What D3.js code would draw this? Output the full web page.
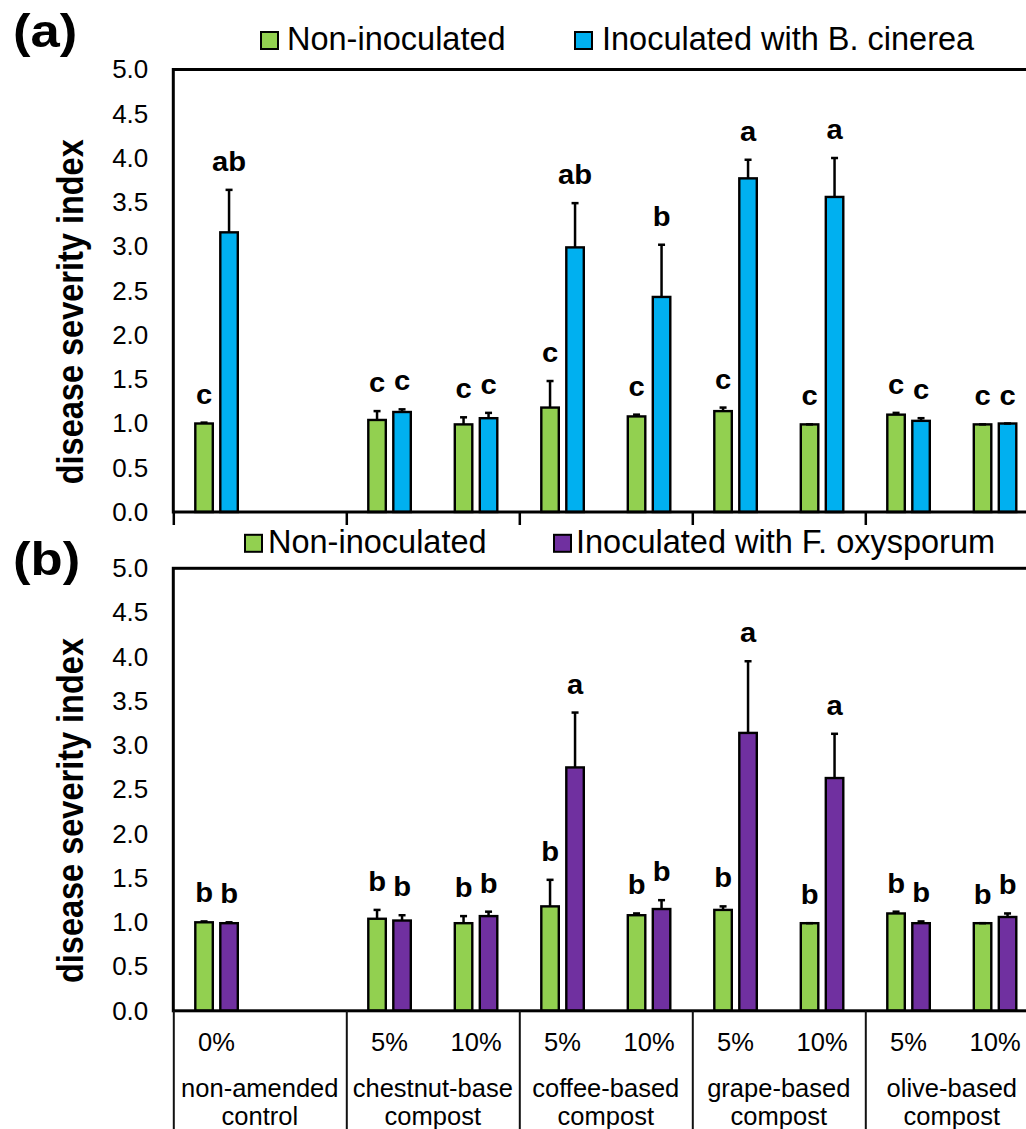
<!DOCTYPE html>
<html>
<head>
<meta charset="utf-8">
<script src="https://cdn.jsdelivr.net/npm/d3@7"></script>
<style>
  body { margin: 0; background: #fff; }
  text { font-family: "Liberation Sans", Arial, sans-serif; fill: #000; }
</style>
</head>
<body>
<div id="chart"></div>
<script>
// x categories: 10 slots, the second one is left empty
const doses = ["0%", "", "5%", "10%", "5%", "10%", "5%", "10%", "5%", "10%"];
const composts = [
    ["non-amended", "control"],
    ["chestnut-base", "compost"],
    ["coffee-based", "compost"],
    ["grape-based", "compost"],
    ["olive-based", "compost"]
];

// non-inoculated plants (same in both panels)
const nonInoc    = [1.00, null, 1.04, 0.99, 1.18, 1.08, 1.14, 0.99, 1.10, 0.99];
const nonInocErr = [0.01, null, 0.10, 0.08, 0.30, 0.02, 0.04, 0.00, 0.02, 0.00];

// (a) B. cinerea
const botrytis    = [3.16, null, 1.13, 1.06, 2.99, 2.43, 3.77, 3.56, 1.03, 1.00];
const botrytisErr = [0.48, null, 0.03, 0.06, 0.50, 0.59, 0.21, 0.44, 0.03, 0.00];
const lettersA0 = ["c", null, "c", "c", "c", "c", "c", "c", "c", "c"];
const lettersA1 = ["ab", null, "c", "c", "ab", "b", "a", "a", "c", "c"];

// (b) F. oxysporum
const fusarium    = [0.99, null, 1.02, 1.07, 2.75, 1.15, 3.14, 2.63, 0.99, 1.06];
const fusariumErr = [0.01, null, 0.06, 0.05, 0.62, 0.10, 0.81, 0.50, 0.02, 0.04];
const lettersB0 = ["b", null, "b", "b", "b", "b", "b", "b", "b", "b"];
const lettersB1 = ["b", null, "b", "b", "a", "b", "a", "a", "b", "b"];

const yTicks = d3.range(0, 5.01, 0.5);

const W = 1026, H = 1129;
const plotLeft = 173.3, plotRight = 1038.3;
const plotH = 442.5;

const svg = d3.select("#chart").append("svg")
    .attr("width", W)
    .attr("height", H);

// shared x scales
const slots = d3.range(doses.length);
const x = d3.scaleBand().domain(slots).range([plotLeft, plotRight]);
const xs = d3.scaleBand().domain([0, 1]).range([0, x.bandwidth()])
    .paddingInner(0.3).paddingOuter(0.88);
const xg = d3.scaleLinear().domain([0, composts.length]).range([plotLeft, plotRight]);

function drawPanel(o) {
    const g = svg.append("g").attr("transform", `translate(0,${o.top})`);
    const y = d3.scaleLinear().domain([0, 5]).range([plotH, 0]);

    // panel label
    g.append("text")
        .attr("transform", `translate(13,${o.labelY}) scale(1.12,1)`)
        .style("font-size", "47px").style("font-weight", "bold")
        .text(o.label);

    // legend
    const leg = g.selectAll(".leg").data(o.legend).enter().append("g");
    leg.append("rect")
        .attr("x", d => d.sx).attr("y", o.legendY - 18)
        .attr("width", 17).attr("height", 17)
        .attr("fill", d => d.color).attr("stroke", "#000").attr("stroke-width", 2);
    leg.append("text")
        .attr("x", d => d.tx).attr("y", o.legendY)
        .style("font-size", "32.5px")
        .text(d => d.name);

    // y axis
    const yAxis = g.append("g")
        .attr("transform", `translate(${plotLeft},0)`)
        .call(d3.axisLeft(y).tickValues(yTicks).tickSize(0).tickPadding(25).tickFormat(d3.format(".1f")));
    yAxis.select(".domain").remove();
    yAxis.selectAll("text").style("font-size", "26px").attr("fill", "#000");

    g.append("text")
        .attr("transform", `translate(83,${plotH / 2 + 21}) scale(1.15,1) rotate(-90)`)
        .attr("text-anchor", "middle")
        .style("font-size", "32.5px").style("font-weight", "bold")
        .text("disease severity index");

    // bars
    const series = [
        { vals: nonInoc, errs: nonInocErr, letters: o.letters0, color: "#92D050" },
        { vals: o.vals, errs: o.errs, letters: o.letters1, color: o.color }
    ];
    series.forEach((s, si) => {
        const data = slots.filter(i => s.vals[i] != null).map(i => ({
            i, v: s.vals[i], e: s.errs[i], l: s.letters[i],
            cx: x(i) + xs(si) + xs.bandwidth() / 2
        }));
        const sg = g.append("g");
        sg.selectAll("rect").data(data).enter().append("rect")
            .attr("x", d => d.cx - xs.bandwidth() / 2)
            .attr("width", xs.bandwidth())
            .attr("y", d => y(d.v))
            .attr("height", d => y(0) - y(d.v))
            .attr("fill", s.color).attr("stroke", "#000").attr("stroke-width", 2.4);
        sg.selectAll(".err").data(data).enter().append("line")
            .attr("x1", d => d.cx).attr("x2", d => d.cx)
            .attr("y1", d => y(d.v)).attr("y2", d => y(d.v + d.e))
            .attr("stroke", "#000").attr("stroke-width", 2.5);
        sg.selectAll(".cap").data(data).enter().append("line")
            .attr("x1", d => d.cx - 3.5).attr("x2", d => d.cx + 3.5)
            .attr("y1", d => y(d.v + d.e)).attr("y2", d => y(d.v + d.e))
            .attr("stroke", "#000").attr("stroke-width", 2.5);
        sg.selectAll(".lab").data(data).enter().append("text")
            .attr("transform", d => `translate(${d.cx},${y(d.v + d.e) - 19}) scale(1.08,1)`)
            .attr("text-anchor", "middle")
            .style("font-size", "27px").style("font-weight", "bold")
            .text(d => d.l);
    });

    // plot frame
    g.append("rect")
        .attr("x", plotLeft).attr("y", 0)
        .attr("width", plotRight - plotLeft).attr("height", plotH)
        .attr("fill", "none").attr("stroke", "#000").attr("stroke-width", 3);

    return { g, y };
}

// panel (a)
const pa = drawPanel({
    top: 69.5, label: "(a)", labelY: -22.5, legendY: -19.5,
    legend: [
        { name: "Non-inoculated", color: "#92D050", sx: 261, tx: 287 },
        { name: "Inoculated with B. cinerea", color: "#00B0F0", sx: 575, tx: 602 }
    ],
    vals: botrytis, errs: botrytisErr, letters0: lettersA0, letters1: lettersA1, color: "#00B0F0"
});
// group ticks below panel (a)
const ta = pa.g.append("g")
    .attr("transform", `translate(0,${plotH})`)
    .call(d3.axisBottom(xg).tickValues(d3.range(0, composts.length + 1)).tickSize(13).tickFormat(""));
ta.select(".domain").remove();
ta.selectAll("line").attr("stroke", "#000").attr("stroke-width", 2.5);

// panel (b)
const pb = drawPanel({
    top: 568.3, label: "(b)", labelY: 7, legendY: -15.5,
    legend: [
        { name: "Non-inoculated", color: "#92D050", sx: 245, tx: 268 },
        { name: "Inoculated with F. oxysporum", color: "#7030A0", sx: 554, tx: 576 }
    ],
    vals: fusarium, errs: fusariumErr, letters0: lettersB0, letters1: lettersB1, color: "#7030A0"
});

// category table below panel (b)
const tb = pb.g.append("g")
    .attr("transform", `translate(0,${plotH})`)
    .call(d3.axisBottom(xg).tickValues(d3.range(0, composts.length + 1)).tickSize(H).tickFormat(""));
tb.select(".domain").remove();
tb.selectAll("line").attr("stroke", "#111").attr("stroke-width", 2);

pb.g.selectAll(".dose").data(slots).enter().append("text")
    .attr("x", i => x(i) + x.bandwidth() / 2)
    .attr("y", plotH + 40.5)
    .attr("text-anchor", "middle")
    .style("font-size", "25.5px")
    .text(i => doses[i]);

const cat = pb.g.selectAll(".cat").data(composts).enter().append("text")
    .attr("text-anchor", "middle")
    .style("font-size", "25.5px");
cat.append("tspan")
    .attr("x", (d, i) => xg(i + 0.5)).attr("y", plotH + 86)
    .text(d => d[0]);
cat.append("tspan")
    .attr("x", (d, i) => xg(i + 0.5)).attr("y", plotH + 114.5)
    .text(d => d[1]);
</script>
</body>
</html>
